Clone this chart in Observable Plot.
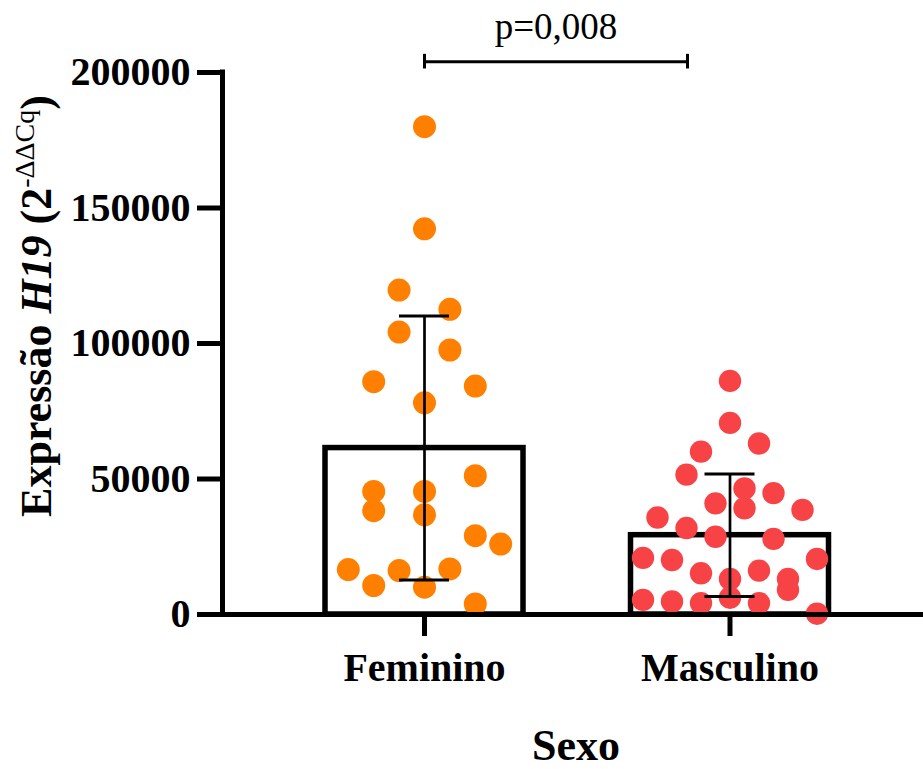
<!DOCTYPE html>
<html>
<head>
<meta charset="utf-8">
<script src="https://cdn.jsdelivr.net/npm/d3@7"></script>
<script src="https://cdn.jsdelivr.net/npm/@observablehq/plot@0.6"></script>
<style>
  html, body { margin: 0; padding: 0; background: #fff; }
</style>
</head>
<body>
<div id="chart"></div>
<script>
// ---- data ----
const categories = ["Feminino", "Masculino"];
const femininoValues  = [180000, 142300, 119700, 112600, 104200, 97600, 85900, 84300, 78100, 51200, 45400, 45400, 38300, 36800, 29100, 26000, 16600, 16200, 16800, 10700, 10100, 3900];
const femininoColumns = [0, 0, -1, 1, -1, 1, -2, 2, 0, 2, -2, 0, -2, 0, 2, 3, -3, -1, 1, -2, 0, 2];
const masculinoValues  = [86200, 70700, 63100, 60100, 51600, 46500, 44800, 41000, 39200, 38600, 35800, 31900, 28700, 27900, 20900, 20100, 20500, 15200, 16200, 13100, 13100, 9100, 5400, 4800, 4200, 6200, 4200, 300];
const masculinoColumns = [0, 0, 2, -2, -3, 1, 3, -1, 1, 5, -5, -3, -1, 3, -6, -4, 6, -2, 2, 0, 4, 4, -6, -4, -2, 0, 2, 6];
const yTicks = [0, 50000, 100000, 150000, 200000];
const pValueLabel = "p=0,008";
const xTitle = "Sexo";
const groupColors = ["#FF8000", "#F84346"];

// ---- layout constants ----
const W = 923, H = 769;
const mLeft = 222, mRight = 0, mTop = 72, mBottom = 155;
const pxPerUnit = 305.5;                       // distance between the two group centres
const xDomain = [1 - (424 - mLeft) / pxPerUnit, 1 + (W - mRight - 424) / pxPerUnit];
const colSpacingPx = [25.4, 14.5];
const barHalf = 99 / pxPerUnit;
const capHalf = 25 / pxPerUnit;
const bracketEnd = 1 + 263 / pxPerUnit;
const font = "'Liberation Serif', 'Times New Roman', Times, serif";

// ---- derived tables ----
const groups = [femininoValues, masculinoValues];
const cols = [femininoColumns, masculinoColumns];
const points = groups.map((vals, gi) => vals.map((v, j) => ({
  x: gi + 1 + cols[gi][j] * colSpacingPx[gi] / pxPerUnit,
  y: v
})));
const stats = groups.map((vals, gi) => ({x: gi + 1, mean: d3.mean(vals), sd: d3.deviation(vals)}));
const caps = stats.flatMap(s => [
  {x1: s.x - capHalf, x2: s.x + capHalf, y: s.mean - s.sd},
  {x1: s.x - capHalf, x2: s.x + capHalf, y: s.mean + s.sd}
]);
const bracketY = 204000;

const chart = Plot.plot({
  width: W, height: H,
  marginLeft: mLeft, marginRight: mRight, marginTop: mTop, marginBottom: mBottom,
  style: {fontFamily: font, color: "black", background: "white", overflow: "visible"},
  x: {type: "linear", domain: xDomain},
  y: {domain: [0, 200000]},
  marks: [
    Plot.rect(stats, {x1: d => d.x - barHalf, x2: d => d.x + barHalf, y1: 0, y2: "mean", fill: "white", stroke: "black", strokeWidth: 5.5}),
    Plot.dot(points[0], {x: "x", y: "y", r: 11.5, fill: groupColors[0]}),
    Plot.dot(points[1], {x: "x", y: "y", r: 11.2, fill: groupColors[1]}),
    Plot.ruleX(stats, {x: "x", y1: d => d.mean - d.sd, y2: d => d.mean + d.sd, stroke: "black", strokeWidth: 2.7}),
    Plot.ruleY(caps, {x1: "x1", x2: "x2", y: "y", stroke: "black", strokeWidth: 3}),
    // axes
    Plot.axisY({ticks: yTicks, tickFormat: d => String(d), tickSize: 25, tickPadding: 7, fontSize: 40, fontWeight: "bold", strokeWidth: 5, label: null}),
    Plot.axisX({ticks: [1, 2], tickFormat: d => categories[d - 1], tickSize: 22, tickPadding: 16, fontSize: 40, fontWeight: "bold", strokeWidth: 5, label: null}),
    Plot.ruleX([xDomain[0]], {y1: 0, y2: 200000, stroke: "black", strokeWidth: 5, strokeLinecap: "square"}),
    Plot.ruleY([0], {stroke: "black", strokeWidth: 5}),
    // significance bracket
    Plot.ruleY([bracketY], {x1: 1, x2: bracketEnd, stroke: "black", strokeWidth: 3}),
    Plot.ruleX([1, bracketEnd], {y1: bracketY - 2700, y2: bracketY + 2700, stroke: "black", strokeWidth: 3}),
    Plot.text([pValueLabel], {x: (1 + bracketEnd) / 2, y: 212400, text: d => d, fontSize: 37, lineAnchor: "bottom", fill: "black"}),
    // x title
    Plot.text([xTitle], {frameAnchor: "bottom", text: d => d, dy: 145, dx: 3, lineAnchor: "bottom", fontSize: 44, fontWeight: "bold", fill: "black"})
  ]
});

document.getElementById("chart").appendChild(chart);

// y-axis title with italic gene name and superscript
const svg = d3.select(chart);
const t = svg.append("text")
  .attr("transform", "translate(51,306) rotate(-90)")
  .attr("text-anchor", "middle")
  .attr("font-family", font)
  .attr("font-size", 44)
  .attr("font-weight", "bold")
  .attr("fill", "black");
t.append("tspan").text("Expressão ");
t.append("tspan").attr("font-style", "italic").text("H19");
t.append("tspan").text(" (2");
t.append("tspan").attr("font-size", 28).attr("font-weight", "normal").attr("dy", -17).text("-ΔΔCq");
t.append("tspan").attr("dy", 17).text(")");
</script>
</body>
</html>
